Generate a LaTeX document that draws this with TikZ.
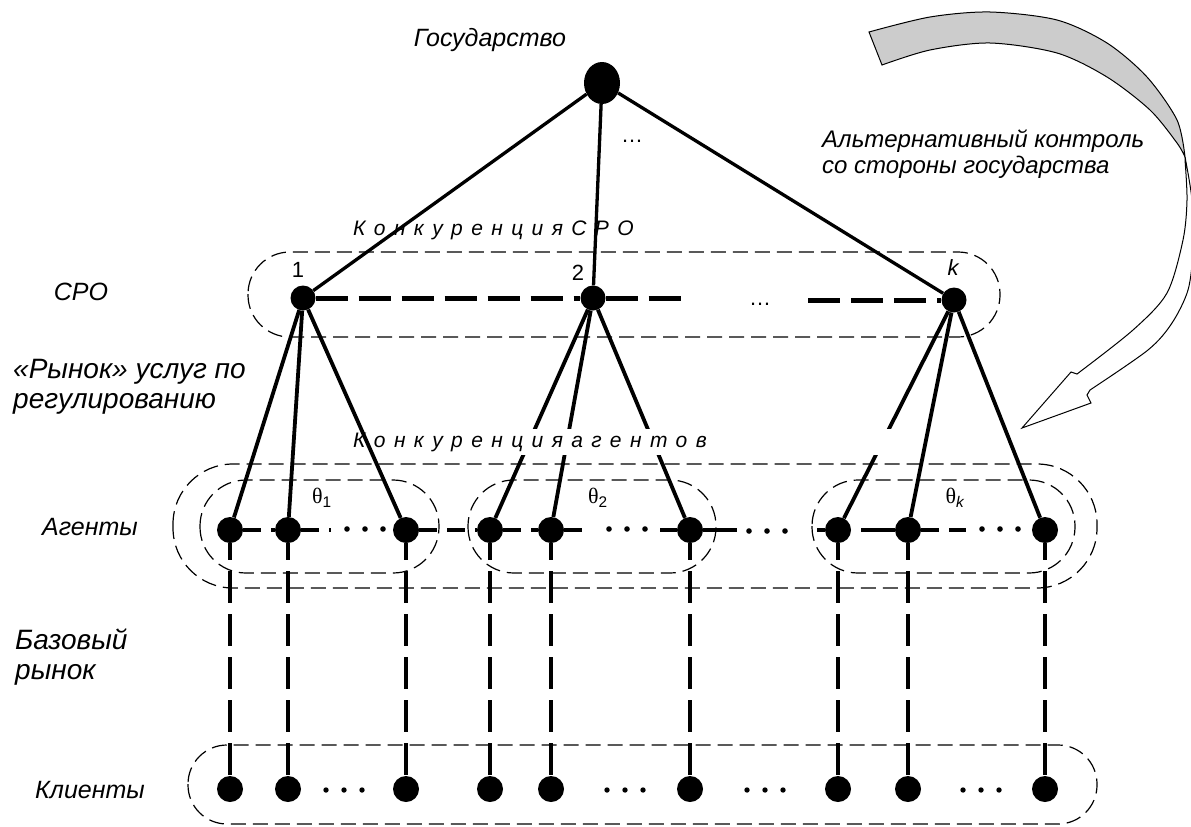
\documentclass[tikz,border=0pt]{standalone}
\usepackage{fontspec}
\setmainfont{Liberation Sans}
\newfontfamily\thetafont{Liberation Serif}
\newfontfamily\spacedfont[LetterSpace=40]{Liberation Sans}
\usetikzlibrary{shapes.geometric}
\tikzset{
    lbl/.style={font=\fontsize{25}{29}\selectfont\itshape, inner sep=0pt},
    widelbl/.style={font=\fontsize{28}{30}\selectfont\itshape, inner sep=0pt, align=left, anchor=north west},
    num/.style={font=\fontsize{22}{24}\selectfont, inner sep=0pt},
    cmp/.style={font=\spacedfont\fontsize{21}{24}\selectfont\itshape, inner sep=0pt},
    bigblob/.style={ellipse, fill=black, inner sep=0pt, minimum width=36pt, minimum height=42pt},
    blob/.style={circle, fill=black, inner sep=0pt, minimum size=#1},
    link/.style={line width=3.3pt},
    sublink/.style={line width=3.8pt},
    sroline/.style={line width=5pt, dash pattern=on 32pt off 11pt},
    arow/.style={line width=3.8pt, dash pattern=on 18pt off 10pt},
    vline/.style={line width=4pt, dash pattern=on 32pt off 11pt, dash phase=15pt},
    grp/.style={line width=1.2pt, dash pattern=on 15pt off 7pt},
}

\begin{document}
\begin{tikzpicture}[x=1pt, y=-1pt]
\useasboundingbox (0,0) rectangle (1191,827);

% dashed groups
\draw[grp, rounded corners=42pt] (248,252) rectangle (1000,337);
\draw[grp, rounded corners=60pt] (173,464) rectangle (1097,588);
\draw[grp, rounded corners=46pt] (200,480) rectangle (439,573);
\draw[grp, rounded corners=46pt] (468,480) rectangle (716,573);
\draw[grp, rounded corners=46pt] (812,480) rectangle (1075,573);
\draw[grp, rounded corners=39pt] (188,745) rectangle (1097,824);

% curved arrow: front face, then back face
\filldraw[fill=white, line width=1pt, line join=miter]
    plot[smooth] coordinates {(1185,157) (1192,200) (1193,250) (1188,290) (1172,323) (1148,350) (1090,390)}
    -- (1087,395) -- (1091,403) -- (1022,428) -- (1071,372) -- (1077,374)
    -- plot[smooth] coordinates {(1077,374) (1133,330) (1167,293) (1183,240) (1187,200) (1185,160)} -- cycle;
\filldraw[fill=black!20, line width=1pt]
    plot[smooth] coordinates {(869,32) (930,17) (990,12) (1057,20) (1107,43) (1147,77) (1177,120) (1185,157)}
    -- plot[smooth] coordinates {(1185,157) (1177,143) (1150,110) (1107,77) (1057,53) (990,43) (930,50) (882,65)} -- cycle;

% nodes
\node[bigblob] (gov) at (602,83) {};
\node[blob=25pt] (s1) at (303,298) {};
\node[blob=25pt] (s2) at (593,298) {};
\node[blob=25pt] (sk) at (954,300) {};
\foreach \x [count=\i] in {230,288,406,490,551,690,838,908,1045}{
    \node[blob=26pt] (a\i) at (\x,530) {};
    \node[blob=26pt] (c\i) at (\x,789) {};
}

% labels
\node[lbl] (lGov) at (490,40) {Государство};
\node[lbl] (lSro) at (81,292) {СРО};
\node[widelbl] (lMkt) at (13,359) {«Рынок» услуг по\\регулированию};
\node[lbl] (lAg) at (90,527) {Агенты};
\node[widelbl] (lBase) at (15,629) {Базовый\\рынок};
\node[lbl] (lCl) at (90,790) {Клиенты};
\node[lbl, font=\fontsize{24}{26}\selectfont\itshape, align=left, anchor=north west] (lAlt) at (822,130) {Альтернативный контроль\\со стороны государства};
\node[num] (n1) at (298,270) {1};
\node[num] (n2) at (578,273) {2};
\node[num, font=\fontsize{22}{24}\selectfont\itshape] (nk) at (953,268) {k};
\node[num] (t1) at (322,498) {{\thetafont θ}\textsubscript{1}};
\node[num] (t2) at (598,498) {{\thetafont θ}\textsubscript{2}};
\node[num] (tk) at (955,498) {{\thetafont θ}\textsubscript{\itshape k}};
\node[num, anchor=base] (e1) at (632,142) {…};
\node[num, anchor=base] (e2) at (760,305) {…};
\node[cmp, anchor=base west] (cmpSro) at (353,235) {КонкуренцияСРО};

% state -> SRO
\foreach \s in {s1,s2,sk}
    \draw[link] (gov) -- (\s);

% SRO row
\coordinate (sEnd) at (688,298);
\coordinate (sBeg) at (808,300);
\draw[sroline] (s1) -- (s2);
\draw[sroline] (s2) -- (sEnd);
\draw[sroline] (sBeg) -- (sk);

% SRO -> agents (partly hidden by the label box)
\foreach \i in {4,5,6}
    \draw[sublink] (s2) -- (a\i);
\draw[sublink] (sk) -- (a7);
\node[cmp, anchor=base west, fill=white, text width=545pt, inner ysep=4pt] (cmpAg) at (353,447) {Конкуренцияагентов};
\foreach \i in {1,2,3}
    \draw[sublink] (s1) -- (a\i);
\foreach \i in {8,9}
    \draw[sublink] (sk) -- (a\i);

% agents row
\coordinate (gA) at (365,529);
\coordinate (gB) at (627,529);
\coordinate (gC) at (767,531);
\coordinate (gD) at (1000,529);
\draw[arow] (a1) -- (a2);
\draw[arow] (a2) -- (331,530);
\draw[arow] (a3) -- (a4);
\draw[arow] (a4) -- (a5);
\draw[arow] (a5) -- (590,530);
\draw[arow] (660,530) -- (a6);
\draw[sublink] (a6) -- (737,530);
\draw[sublink] (817,530) -- (a7);
\draw[sublink, shorten <=10pt] (a7) -- (a8);
\draw[arow] (a8) -- (966,530);
\foreach \p in {gA,gB,gC,gD}
    \foreach \d in {-18,0,18}
        \fill ([xshift=\d pt]\p) circle (2.8);

% agents -> clients
\foreach \i in {1,...,9}
    \draw[vline] (a\i) -- (c\i);

% clients row
\coordinate (hA) at (344,790);
\coordinate (hB) at (625,790);
\coordinate (hC) at (765,790);
\coordinate (hD) at (981,790);
\foreach \p in {hA,hB,hC,hD}
    \foreach \d in {-18,0,18}
        \fill ([xshift=\d pt]\p) circle (2.7);
\end{tikzpicture}
\end{document}
